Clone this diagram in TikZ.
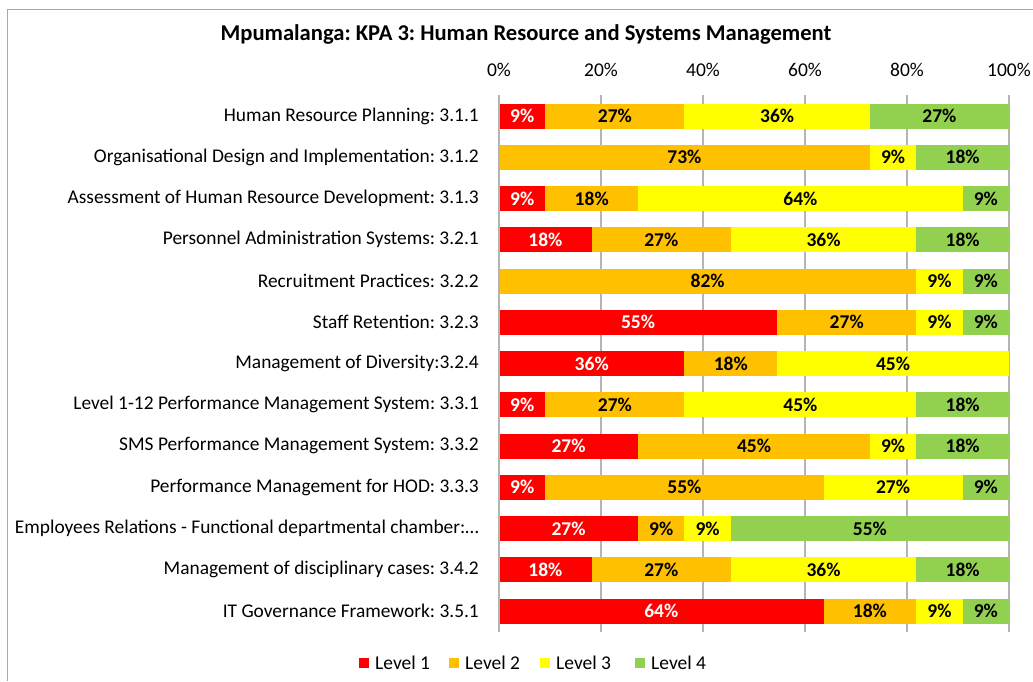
\documentclass[tikz,border=0pt]{standalone}
\usepackage{fontspec}
\setmainfont{Carlito}
\frenchspacing
\definecolor{lvA}{HTML}{FF0000}
\definecolor{lvB}{HTML}{FFC000}
\definecolor{lvC}{HTML}{FFFF00}
\definecolor{lvD}{HTML}{92D050}
\definecolor{gridc}{HTML}{B4B4B4}
\definecolor{framec}{HTML}{A8A8A8}
\newcommand\pctof[1]{\ifcase#1 0\or 9\or 18\or 27\or 36\or 45\or 55\or 64\or 73\or 82\fi\%}
\newcommand\segm[7]{\ifnum#3>0
  \fill[#4] (#1,\yy-12.5) rectangle (#2,\yy+12.5);
  \node[pct,text=#5] (#6) at ({(#1+#2)/2},\yy) {\pctof{#3}};\fi}
\newcommand\hbarrow[6]{%
  \pgfmathsetmacro\yy{116+(#1-1)*41.25}
  \pgfmathsetmacro\xa{499+#3*510/11}
  \pgfmathsetmacro\xb{\xa+#4*510/11}
  \pgfmathsetmacro\xc{\xb+#5*510/11}
  \node[catlab] (lab#1) at (479,\yy) {#2};
  \segm{499}{\xa}{#3}{lvA}{white}{p#1a}{}
  \segm{\xa}{\xb}{#4}{lvB}{black}{p#1b}{}
  \segm{\xb}{\xc}{#5}{lvC}{black}{p#1c}{}
  \segm{\xc}{1009}{#6}{lvD}{black}{p#1d}{}
}
\begin{document}
\begin{tikzpicture}[x=1pt,y=-1pt,
  catlab/.style={anchor=east,inner sep=0pt,font=\fontsize{19.4}{22}\selectfont},
  pct/.style={inner sep=0pt,font=\fontsize{19.5}{22}\selectfont\bfseries},
  axlab/.style={inner sep=0pt,font=\fontsize{19.5}{22}\selectfont},
  leglab/.style={anchor=west,inner sep=0pt,font=\fontsize{19.5}{22}\selectfont},
  legbox/.style={minimum width=10pt,minimum height=10pt,inner sep=0pt},
  gridline/.style={draw=gridc,line width=1.3pt}]
\useasboundingbox (0,0) rectangle (1033,681);
\fill[white] (0,0) rectangle (1033,681);
% frame
\coordinate (ftl) at (7.5,9.5);
\coordinate (fbl) at (7.5,681);
\coordinate (ftr) at (1033,9.5);
\draw[framec,line width=1.2pt] (fbl) -- (ftl) -- (ftr);
% title
\node[inner sep=0pt,font=\fontsize{22.6}{26}\selectfont\bfseries] (title) at (526,34) {Mpumalanga: KPA 3: Human Resource and Systems Management};
% grid and axis labels
\foreach \k in {0,20,40,60,80,100}{
  \coordinate (gt\k) at ({499+5.1*\k},95);
  \coordinate (gb\k) at ({499+5.1*\k},632);
  \draw[gridline] (gt\k) -- (gb\k);
  \node[axlab] (ax\k) at ({499+5.1*\k},70) {\k\%};
}
% bars
\hbarrow{1}{Human Resource Planning: 3.1.1}{1}{3}{4}{3}
\hbarrow{2}{Organisational Design and Implementation: 3.1.2}{0}{8}{1}{2}
\hbarrow{3}{Assessment of Human Resource Development: 3.1.3}{1}{2}{7}{1}
\hbarrow{4}{Personnel Administration Systems: 3.2.1}{2}{3}{4}{2}
\hbarrow{5}{Recruitment Practices: 3.2.2}{0}{9}{1}{1}
\hbarrow{6}{Staff Retention: 3.2.3}{6}{3}{1}{1}
\hbarrow{7}{Management of Diversity:3.2.4}{4}{2}{5}{0}
\hbarrow{8}{Level 1-12 Performance Management System: 3.3.1}{1}{3}{5}{2}
\hbarrow{9}{SMS Performance Management System: 3.3.2}{3}{5}{1}{2}
\hbarrow{10}{Performance Management for HOD: 3.3.3}{1}{6}{3}{1}
\hbarrow{11}{Employees Relations - Functional departmental chamber:…}{3}{1}{1}{6}
\hbarrow{12}{Management of disciplinary cases: 3.4.2}{2}{3}{4}{2}
\hbarrow{13}{IT Governance Framework: 3.5.1}{7}{2}{1}{1}
% axis line on top
\draw[gridline] (gt0) -- (gb0);
% legend
\node[legbox,fill=lvA] (kA) at (364,663) {};
\node[leglab] (tA) at (375,663) {Level 1};
\node[legbox,fill=lvB] (kB) at (454,663) {};
\node[leglab] (tB) at (465,663) {Level 2};
\node[legbox,fill=lvC] (kC) at (545,663) {};
\node[leglab] (tC) at (556,663) {Level 3};
\node[legbox,fill=lvD] (kD) at (640,663) {};
\node[leglab] (tD) at (651,663) {Level 4};
\end{tikzpicture}
\end{document}
